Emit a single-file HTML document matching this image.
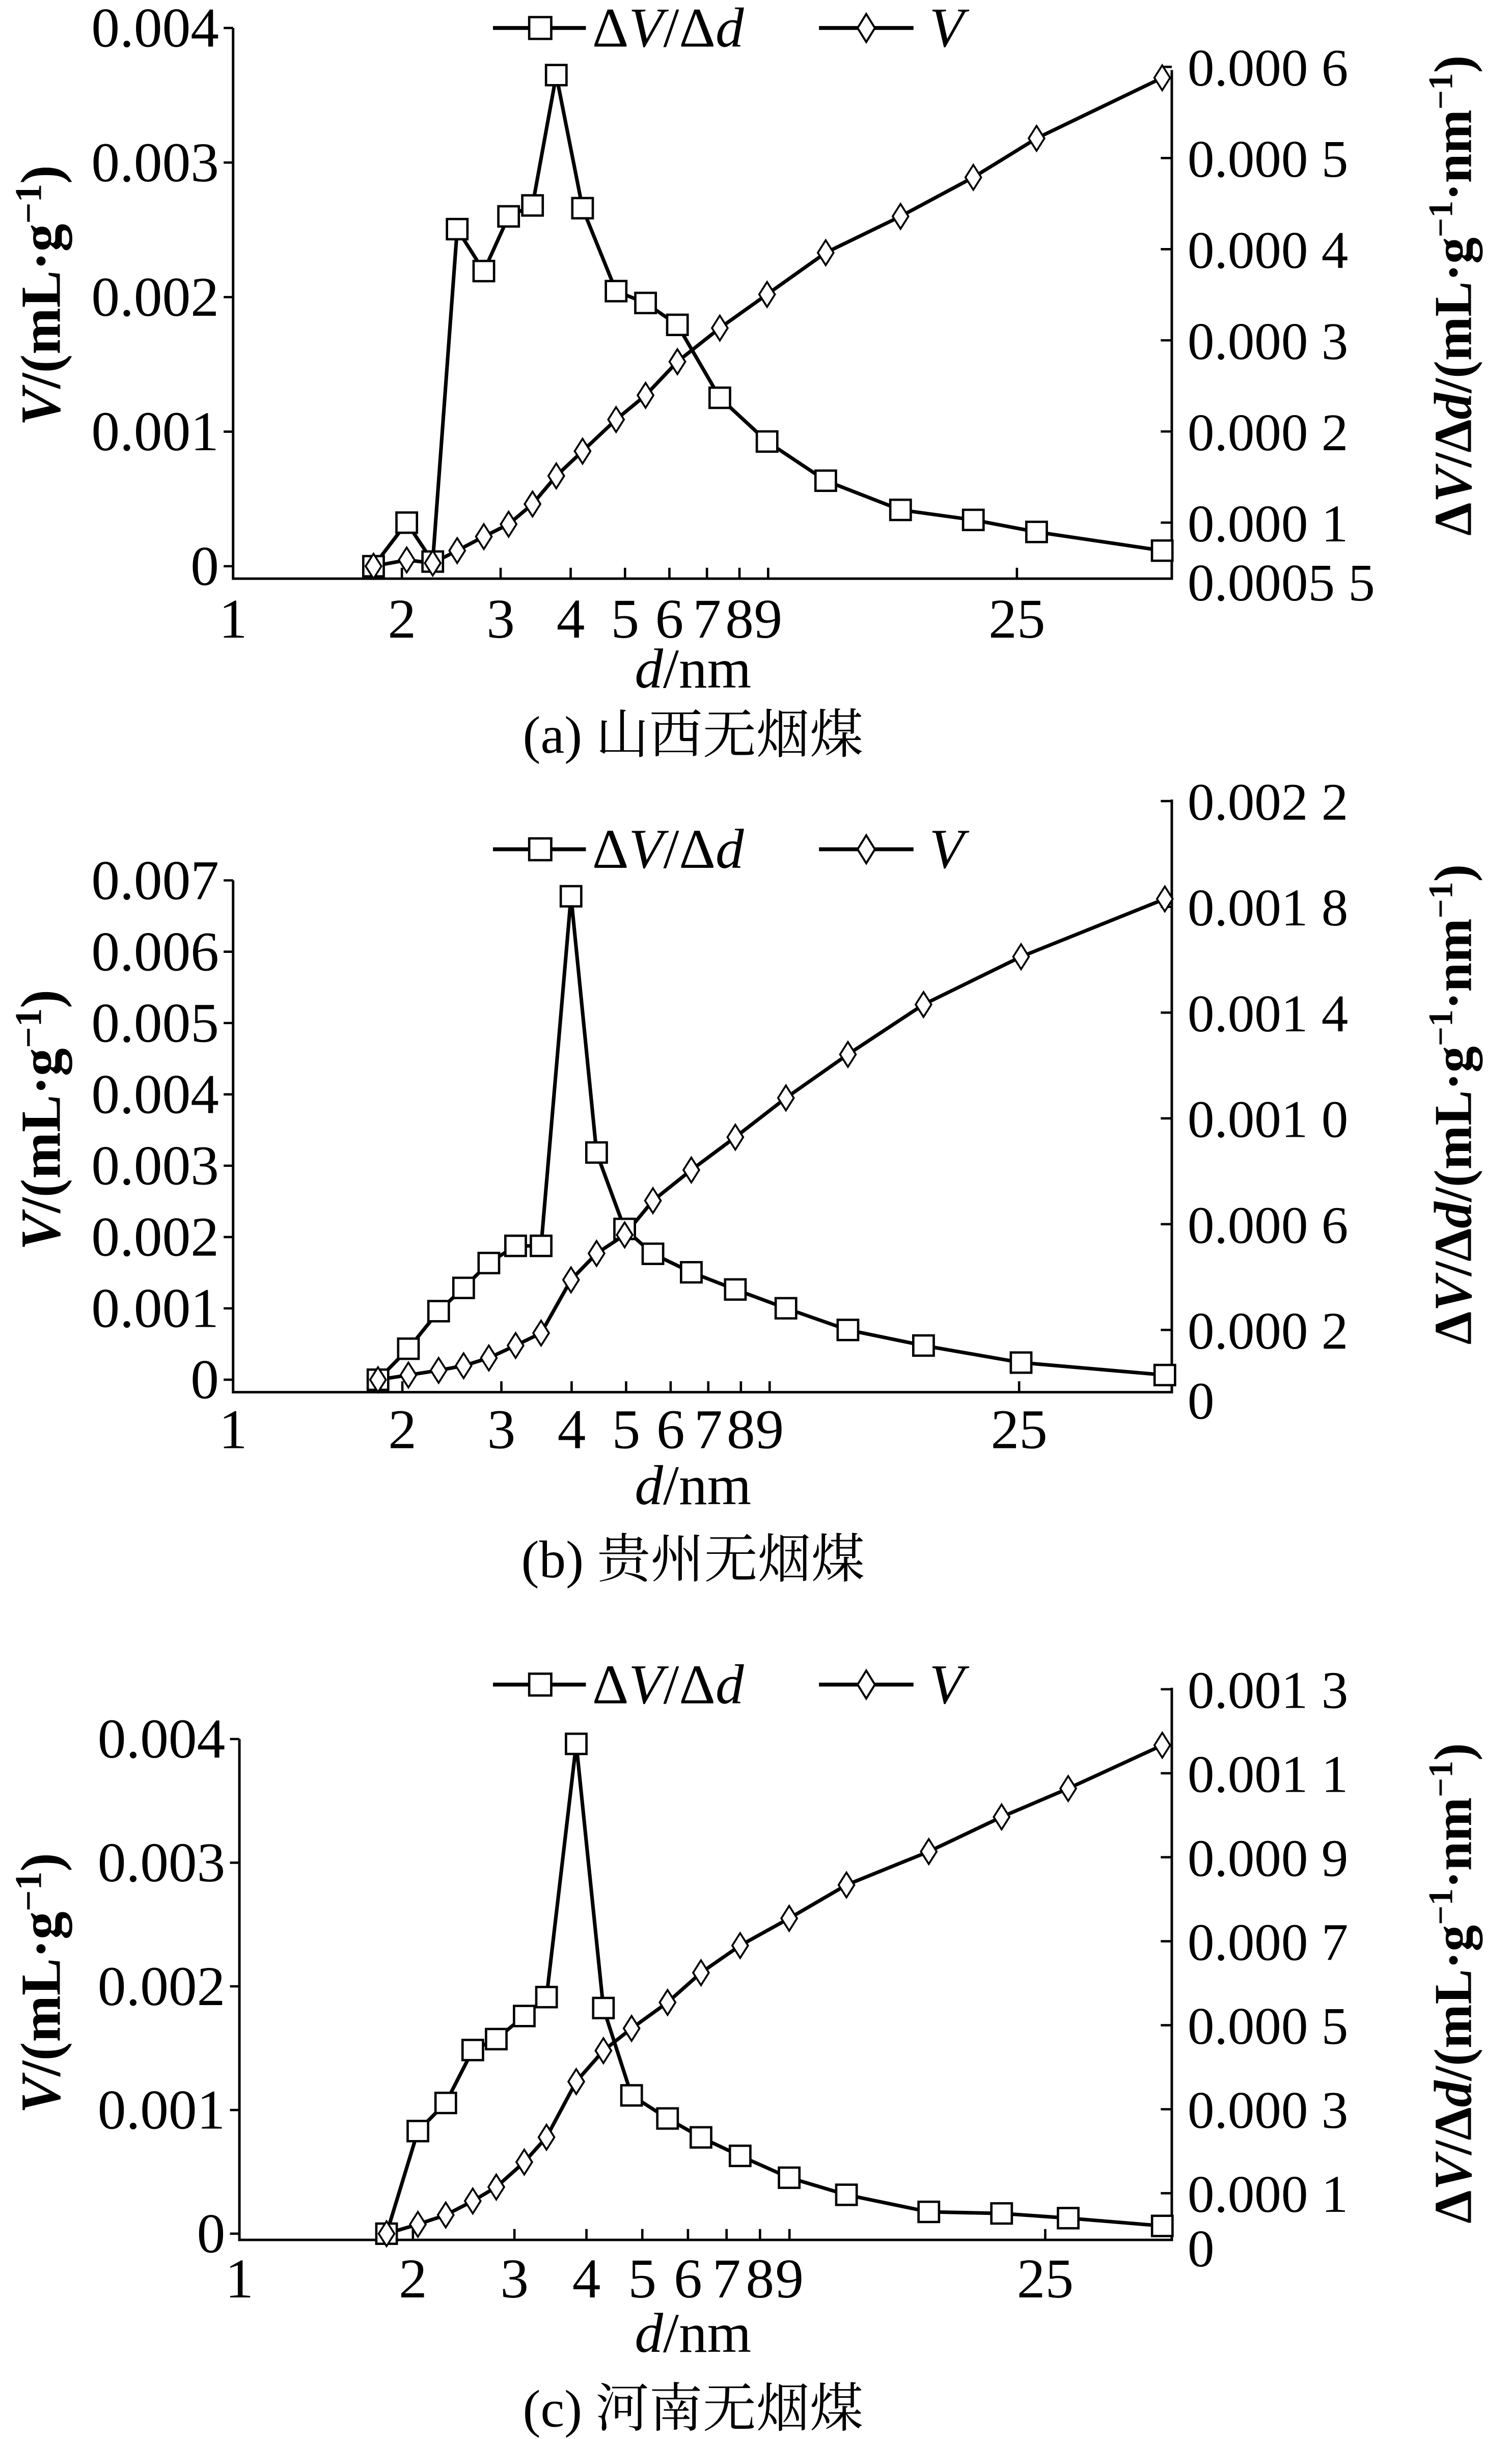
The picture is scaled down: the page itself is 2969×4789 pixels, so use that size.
<!DOCTYPE html>
<html><head><meta charset="utf-8"><style>
html,body{margin:0;padding:0;background:#fff;}
svg{display:block;}
text{font-family:"Liberation Serif","Noto Serif CJK SC",serif;fill:#000;}
</style></head>
<body>
<svg id="chart" width="2969" height="4789" viewBox="0 0 960 1568" preserveAspectRatio="none" xmlns="http://www.w3.org/2000/svg"></svg>
<script>
// Panel (a) Shanxi
const diamA = [1.78,2.04,2.27,2.51,2.80,3.10,3.42,3.77,4.20,4.82,5.44,6.20,7.38,8.96,11.4,15.5,20.9,27.1,45.4];
const dvdA = [0.0000522,0.0001,0.0000573,0.000422,0.000376,0.000436,0.000448,0.000591,0.000445,0.000354,0.000341,0.000317,0.000237,0.000189,0.000146,0.000114,0.000103,0.0000898,0.0000693];
const volA = [0,0.0000462,0.0000231,0.000116,0.000220,0.000312,0.000462,0.000671,0.000855,0.00109,0.00127,0.00152,0.00177,0.00202,0.00233,0.00260,0.00289,0.00318,0.00363];
const leftTicksA = ["0","0.001","0.002","0.003","0.004"];
const rightTicksA = ["0.000 1","0.000 2","0.000 3","0.000 4","0.000 5","0.000 6"];
// Panel (b) Guizhou
const diamB = [1.81,2.05,2.32,2.57,2.85,3.18,3.53,3.99,4.43,4.97,5.58,6.53,7.82,9.62,12.4,16.9,25.2,45.4];
const dvdB = [0.0000118,0.000129,0.000271,0.000359,0.000453,0.000518,0.000518,0.00184,0.000871,0.000582,0.000488,0.000418,0.000353,0.000282,0.0002,0.000141,0.0000765,0.0000294];
const volB = [0,0.0000654,0.000131,0.000196,0.000305,0.000480,0.000654,0.00140,0.00177,0.00203,0.00251,0.00294,0.00340,0.00395,0.00456,0.00526,0.00593,0.00674];
const leftTicksB = ["0","0.001","0.002","0.003","0.004","0.005","0.006","0.007"];
const rightTicksB = ["0.000 2","0.000 6","0.001 0","0.001 4","0.001 8","0.002 2"];
// Panel (c) Henan
const diamC = [1.80,2.04,2.28,2.54,2.79,3.12,3.41,3.84,4.28,4.79,5.53,6.32,7.39,8.99,11.3,15.7,21.0,27.4,39.9];
const dvdC = [0.0000037,0.000248,0.000315,0.000441,0.000467,0.000522,0.000567,0.00117,0.000541,0.000333,0.000278,0.000233,0.000189,0.000137,0.0000963,0.0000556,0.0000519,0.0000407,0.0000222];
const volC = [0,0.0000755,0.000151,0.000264,0.000377,0.000579,0.00078,0.00123,0.00148,0.00166,0.00187,0.00211,0.00233,0.00255,0.00282,0.00309,0.00337,0.0036,0.00395];
const leftTicksC = ["0","0.001","0.002","0.003","0.004"];
const rightTicksC = ["0.000 1","0.000 3","0.000 5","0.000 7","0.000 9","0.001 1","0.001 3"];
const xTickVals = [2,3,4,5,6,7,8,9,25];
const xTickLabels = ["2","3","4","5","6","7","8","9","25"];

const NS="http://www.w3.org/2000/svg";
const svg=document.getElementById('chart');
function mk(tag,attrs,parent,txt){const e=document.createElementNS(NS,tag);for(const k in attrs)e.setAttribute(k,attrs[k]);if(txt!==undefined)e.textContent=txt;(parent||svg).appendChild(e);return e;}

const panels=[
 {key:'a',d:diamA,dv:dvdA,v:volA,lt:leftTicksA,lstep:0.001,rt:rightTicksA,rstart:0.0001,rstep:0.0001,
  x0:148,x1:744,k:356,ltop:18,rtop:45,bot:372,vZero:364,vPx:86500,rZero:394.6,rPx:586000,legY:18,xlabY:410,titY:442,capY:484,
  rExtra:{t:"0.0005 5",y:386},cap:"(a) 山西无烟煤",ltitleY:190,rtitleY:190},
 {key:'b',d:diamB,dv:dvdB,v:volB,lt:leftTicksB,lstep:0.001,rt:rightTicksB,rstart:0.0002,rstep:0.0004,
  x0:148,x1:744,k:357,ltop:566,rtop:514,bot:895,vZero:887,vPx:45860,rZero:889,rPx:170000,legY:546,xlabY:931,titY:967,capY:1014,
  rExtra:{t:"0",y:912},cap:"(b) 贵州无烟煤",ltitleY:720,rtitleY:710},
 {key:'c',d:diamC,dv:dvdC,v:volC,lt:leftTicksC,lstep:0.001,rt:rightTicksC,rstart:0.0001,rstep:0.0002,
  x0:152,x1:744,k:366,ltop:1118,rtop:1085,bot:1440,vZero:1436,vPx:79500,rZero:1437,rPx:270000,legY:1083,xlabY:1477,titY:1512,capY:1560,
  rExtra:{t:"0",y:1457},cap:"(c) 河南无烟煤",ltitleY:1275,rtitleY:1275}
];

panels.forEach(p=>{
 const g=mk('g',{});
 
 
 const xs=d=>p.x0+p.k*Math.log10(d);
 const yl=v=>p.vZero-v*p.vPx;
 const yr=v=>p.rZero-v*p.rPx;
 const ax=mk('path',{d:`M${p.x0},${p.ltop} L${p.x0},${p.bot} L${p.x1},${p.bot} L${p.x1},${p.rtop}`,fill:'none',stroke:'#000','stroke-width':1.6},g);
 
 
 p.lt.forEach((t,i)=>{const y=yl(i*p.lstep);
  mk('line',{x1:p.x0-6,x2:p.x0,y1:y,y2:y,stroke:'#000','stroke-width':1.5},g);
  const tx=mk('text',{x:p.x0-9,y:y+12,'font-size':36,'text-anchor':'end'},g,t);
  
  
 });
 p.rt.forEach((t,i)=>{const y=yr(p.rstart+i*p.rstep);
  mk('line',{x1:p.x1-7,x2:p.x1,y1:y,y2:y,stroke:'#000','stroke-width':1.5},g);
  const tx=mk('text',{x:p.x1+10,y:y+12,'font-size':34},g,t);
  
  
 });
 const rx=mk('text',{x:p.x1+10,y:p.rExtra.y,'font-size':34},g,p.rExtra.t);
 
 
 const one=mk('text',{x:p.x0,y:p.xlabY,'font-size':36,'text-anchor':'middle'},g,"1");
 
 
 xTickVals.forEach((v,i)=>{const x=xs(v);
  mk('line',{x1:x,x2:x,y1:p.bot-7,y2:p.bot,stroke:'#000','stroke-width':1.5},g);
  const tx=mk('text',{x:x,y:p.xlabY,'font-size':36,'text-anchor':'middle'},g,xTickLabels[i]);
  
  
 });
 const xt=mk('text',{x:440,y:p.titY,'font-size':36,'text-anchor':'middle'},g);
 
 
 mk('tspan',{'font-style':'italic'},xt,'d');mk('tspan',{},xt,'/nm');
 const lt=mk('text',{x:0,y:0,'font-size':36,'font-weight':'bold','text-anchor':'middle',transform:`translate(38,${p.ltitleY}) rotate(-90)`},g);
 
 
 mk('tspan',{'font-style':'italic'},lt,'V');mk('tspan',{},lt,'/(mL·g');mk('tspan',{dy:-12,'font-size':24},lt,'−1');mk('tspan',{dy:12},lt,')');
 const rtt=mk('text',{x:0,y:0,'font-size':34,'font-weight':'bold','text-anchor':'middle',transform:`translate(934,${p.rtitleY}) rotate(-90)`},g);
 
 
 mk('tspan',{},rtt,'Δ');mk('tspan',{'font-style':'italic'},rtt,'V');mk('tspan',{},rtt,'/Δ');mk('tspan',{'font-style':'italic'},rtt,'d');
 mk('tspan',{},rtt,'/(mL·g');mk('tspan',{dy:-12,'font-size':22},rtt,'−1');mk('tspan',{dy:12},rtt,'·nm');mk('tspan',{dy:-12,'font-size':22},rtt,'−1');mk('tspan',{dy:12},rtt,')');
 const cp=mk('text',{x:440,y:p.capY,'font-size':34,'text-anchor':'middle'},g,p.cap);
 
 
 const lg=mk('g',{},g);
 
 
 mk('line',{x1:313,x2:372,y1:p.legY,y2:p.legY,stroke:'#000','stroke-width':2.5},lg);
 mk('rect',{x:336,y:p.legY-7,width:14,height:14,fill:'#fff',stroke:'#000','stroke-width':1.5},lg);
 const l1=mk('text',{x:376,y:p.legY+12,'font-size':36},lg);
 mk('tspan',{},l1,'Δ');mk('tspan',{'font-style':'italic'},l1,'V');mk('tspan',{},l1,'/Δ');mk('tspan',{'font-style':'italic'},l1,'d');
 mk('line',{x1:520,x2:580,y1:p.legY,y2:p.legY,stroke:'#000','stroke-width':2.5},lg);
 mk('path',{d:`M550,${p.legY-9} L555.5,${p.legY} L550,${p.legY+9} L544.5,${p.legY} Z`,fill:'#fff',stroke:'#000','stroke-width':1.3},lg);
 mk('text',{x:590,y:p.legY+12,'font-size':36,'font-style':'italic'},lg,'V');
 const s1=mk('polyline',{points:p.d.map((d,i)=>xs(d)+','+yr(p.dv[i])).join(' '),fill:'none',stroke:'#000','stroke-width':2.3,'stroke-linejoin':'round'},g);
 
 
 const s2=mk('polyline',{points:p.d.map((d,i)=>xs(d)+','+yl(p.v[i])).join(' '),fill:'none',stroke:'#000','stroke-width':2.3,'stroke-linejoin':'round'},g);
 
 
 p.d.forEach((d,i)=>{
  const x=xs(d),y=yr(p.dv[i]);
  const r=mk('rect',{x:x-6.5,y:y-6.5,width:13,height:13,fill:'#fff',stroke:'#000','stroke-width':1.5},g);
  
  
 });
 p.d.forEach((d,i)=>{
  const x=xs(d),y=yl(p.v[i]);
  const m=mk('path',{d:`M${x},${y-8} L${x+5},${y} L${x},${y+8} L${x-5},${y} Z`,fill:'#fff',stroke:'#000','stroke-width':1.2},g);
  
  
 });
});
</script>
</body></html>
